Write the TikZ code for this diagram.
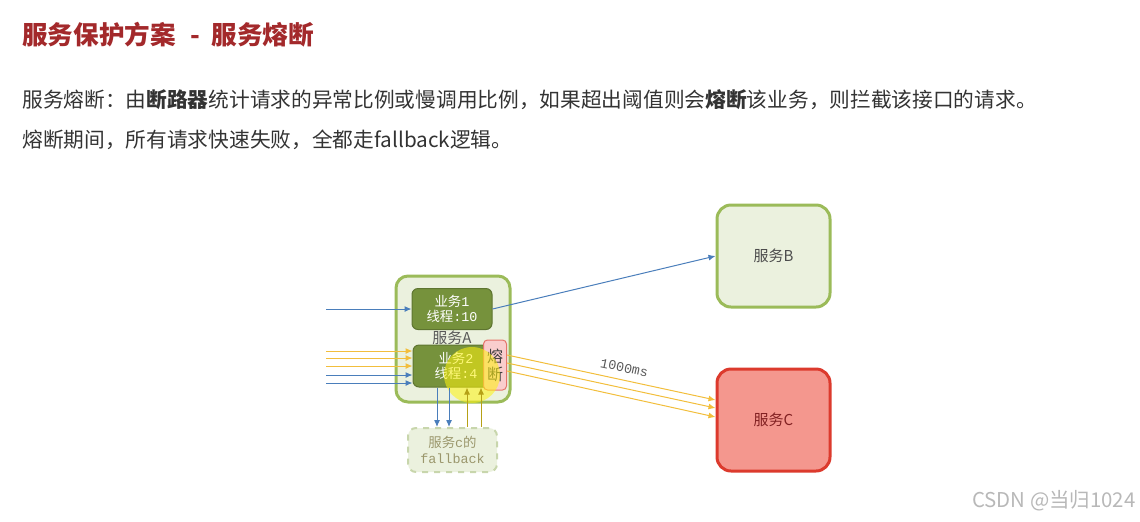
\documentclass[tikz,border=0pt]{standalone}
\usepackage{fontspec}
\setmainfont{Noto Sans CJK SC}
\setmonofont{Liberation Mono}
\usetikzlibrary{arrows.meta,positioning}

\definecolor{titlered}{HTML}{A3292B}
\definecolor{bodygray}{HTML}{333333}
\definecolor{okgreen}{HTML}{9BBB59}
\definecolor{lightgreen}{HTML}{EBF1DE}
\definecolor{darkolive}{HTML}{76923C}
\definecolor{blueline}{HTML}{4A7EBB}
\definecolor{yell}{HTML}{F2BE3C}
\definecolor{svcred}{HTML}{F4978E}
\definecolor{redborder}{HTML}{DC3A2D}
\definecolor{pinkfill}{HTML}{F9CDCD}
\definecolor{fbline}{HTML}{C8D6AC}

\newcommand{\cn}[1]{{\rmfamily #1}}

\tikzset{
  body/.style={anchor=west, inner sep=0pt, text=bodygray, font=\fontsize{10.35}{12}\selectfont},
  svcbox/.style={draw=okgreen, line width=1.5pt, fill=lightgreen, rounded corners=7pt,
    minimum width=56.5pt, minimum height=51pt, inner sep=0pt, text=black!70,
    font=\fontsize{7.5}{9}\selectfont},
  bizbox/.style={draw=darkolive!80!black, line width=0.5pt, fill=darkolive, rounded corners=3pt,
    minimum width=40pt, minimum height=20.5pt, inner sep=0pt, align=center, text=white,
    font=\ttfamily\fontsize{6.7}{7.7}\selectfont},
  fusebox/.style={draw=redborder!70, line width=0.5pt, fill=pinkfill, rounded corners=2pt,
    minimum width=11.5pt, minimum height=25pt, inner sep=0pt, align=center, text=black!75,
    font=\fontsize{8}{10}\selectfont},
  fbbox/.style={draw=fbline, dashed, line width=1pt, fill=lightgreen, rounded corners=4pt,
    minimum width=44.5pt, minimum height=22pt, inner sep=0pt, align=center, text=black!50!olive!60,
    font=\ttfamily\fontsize{6.7}{7.7}\selectfont},
  blue req/.style={-{Latex[length=3.5pt,width=3pt]}, draw=blueline, line width=0.5pt},
  yell req/.style={-{Latex[length=3.5pt,width=3pt]}, draw=yell, line width=0.5pt},
}

\begin{document}
\begin{tikzpicture}[x=0.5pt,y=-0.5pt]
\useasboundingbox (0,0) rectangle (1140,521);

% heading and text
\node (title) [anchor=west, inner sep=0pt, text=titlered, font=\bfseries\fontsize{12.8}{15}\selectfont]
  at (22,35) {服务保护方案\hspace{0.55em}-\hspace{0.45em}服务熔断};
\node (line1) [body] at (22,100)
  {服务熔断：由\textbf{断路器}统计请求的异常比例或慢调用比例，如果超出阈值则会\textbf{熔断}该业务，则拦截该接口的请求。};
\node (line2) [body] at (22,140) {熔断期间，所有请求快速失败，全都走fallback逻辑。};

% services
\node (svcA) [svcbox, minimum width=57pt, minimum height=63pt, rounded corners=6pt] at (453,339) {};
\node (lblA) [inner sep=0pt, text=black!65, font=\fontsize{7.5}{9}\selectfont] at (452,338) {服务A};
\node (biz1) [bizbox] at (452,309) {\cn{业务}1\\\cn{线程}:10};
\node (biz2) [bizbox, minimum width=43pt, minimum height=21pt] at (456,366) {\cn{业务}2\\\cn{线程}:4};
\node (fuse) [fusebox] at (495,365) {熔\\[-1pt]断};
\fill[yellow!95!white, opacity=0.55] (472,375) circle (14pt);
\node (svcB) [svcbox] at (773.5,256) {服务B};
\node (svcC) [svcbox, fill=svcred, draw=redborder, text=titlered!80!black] at (773.5,420) {服务C};
\node (fb) [fbbox] at (452.5,450) {\cn{服务}c\cn{的}\\fallback};

% incoming requests
\coordinate (in1) at (326,309);
\path (in1) edge[blue req] (in1 -| biz1.west);
\foreach \y in {351,358,366} {
  \coordinate (iny\y) at (326,\y);
  \draw[yell req] (iny\y) -- (iny\y -| biz2.west);
}
\foreach \y in {375,383} {
  \coordinate (inb\y) at (326,\y);
  \draw[blue req] (inb\y) -- (inb\y -| biz2.west);
}

% calls
\path (biz1.east) edge[blue req] (svcB.west);
\draw[yell req] (fuse.east |- 0,355) -- (svcC.west |- 0,400)
  node [pos=0.55, above=3.5pt, sloped, inner sep=0pt, text=black!65, font=\ttfamily\fontsize{6.7}{8}\selectfont] {1000ms};
\draw[yell req] (fuse.east |- 0,363) -- (svcC.west |- 0,408);
\draw[yell req] (fuse.east |- 0,371) -- (svcC.west |- 0,417);

% fallback
\path (biz2.south -| 437,0) edge[blue req] (fb.north -| 437,0)
      (biz2.south -| 449,0) edge[blue req] (fb.north -| 449,0);
\path (fb.north -| 467,0) edge[yell req, draw=olive!60!yell] (biz2.south -| 467,0)
      (fb.north -| 481,0) edge[yell req, draw=olive!60!yell] (biz2.south -| 481,0);

% watermark
\node (mark) [anchor=east, inner sep=0pt, text=black!28, font=\fontsize{10.2}{12}\selectfont] at (1136,501) {CSDN @当归1024};
\end{tikzpicture}
\end{document}
